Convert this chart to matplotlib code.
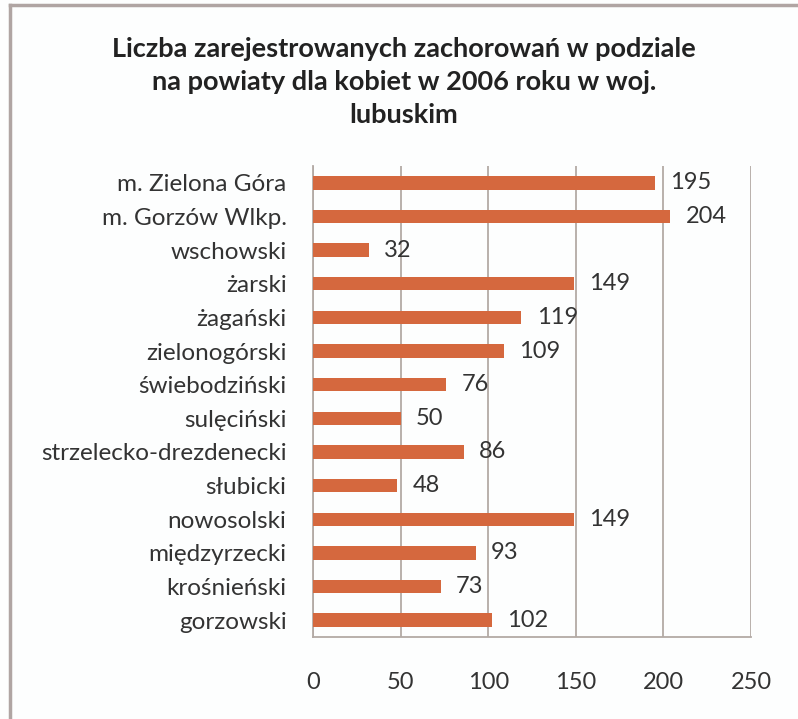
import matplotlib
matplotlib.use("Agg")
import matplotlib.pyplot as plt
from matplotlib.lines import Line2D

plt.rcParams['font.family'] = ['Lato', 'DejaVu Sans']

categories = ["m. Zielona Góra", "m. Gorzów Wlkp.", "wschowski", "żarski", "żagański",
              "zielonogórski", "świebodziński", "sulęciński", "strzelecko-drezdenecki",
              "słubicki", "nowosolski", "międzyrzecki", "krośnieński", "gorzowski"]
values = [195, 204, 32, 149, 119, 109, 76, 50, 86, 48, 149, 93, 73, 102]
xticks = [0, 50, 100, 150, 200, 250]
title = "Liczba zarejestrowanych zachorowań w podziale\nna powiaty dla kobiet w 2006 roku w woj.\nlubuskim"

bar_color = '#d5683e'
grid_color = '#b3aaa5'
text_color = '#333333'

fig = plt.figure(figsize=(7.98, 7.19), dpi=100)
fig.patch.set_facecolor('#fdfefe')
ax = fig.add_axes([313/798, 1-637/719, (751-313)/798, (637-166)/719])
ax.set_facecolor('#fdfefe')

y = list(range(len(categories)))
ax.barh(y, values, height=0.4, color=bar_color, zorder=3)
ax.set_ylim(len(categories)-0.5, -0.5)
ax.set_xlim(0, 250)
ax.set_xticks(xticks)
ax.set_xticklabels([str(t) for t in xticks])
ax.set_yticks(y)
ax.set_yticklabels(categories)

for yi, v in zip(y, values):
    ax.annotate(str(v), (v, yi), xytext=(11, 0), textcoords='offset points',
                va='center', ha='left', fontsize=17, color=text_color)

ax.grid(axis='x', color=grid_color, linewidth=1.3, zorder=0)
for s in ['top', 'right']:
    ax.spines[s].set_visible(False)
for s in ['left', 'bottom']:
    ax.spines[s].set_color(grid_color)
    ax.spines[s].set_linewidth(1.3)
ax.tick_params(axis='x', length=0, pad=25, labelsize=17, labelcolor=text_color)
ax.tick_params(axis='y', length=0, pad=19, labelsize=17.5, labelcolor=text_color)

fig.text(0.5 + 5/798, 1-82/719, title, ha='center', va='center', fontsize=19.5,
         fontweight='bold', color='#222222', linespacing=1.47)

fig.add_artist(Line2D([10/798, 10/798], [0, 1-5/719], color='#b0a5a3', linewidth=2.5))
fig.add_artist(Line2D([10/798, 1], [1-5/719, 1-5/719], color='#b0a5a3', linewidth=2.5))

fig.savefig('out.png', dpi=100, facecolor=fig.get_facecolor())
